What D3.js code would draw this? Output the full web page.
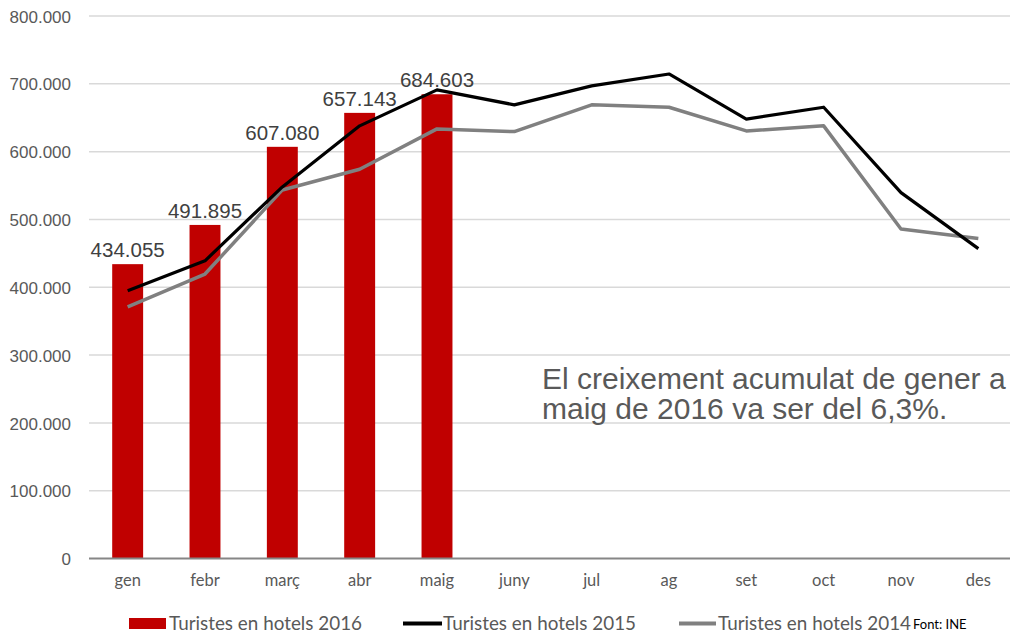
<!DOCTYPE html>
<html>
<head>
<meta charset="utf-8">
<script src="https://cdn.jsdelivr.net/npm/d3@7"></script>
<style>
  body { margin: 0; background: #fff; }
  svg { display: block; }
</style>
</head>
<body>
<svg id="chart" width="1010" height="637"></svg>
<script>
// months on the x axis
const months = ["gen", "febr", "març", "abr", "maig", "juny", "jul", "ag", "set", "oct", "nov", "des"];
// 2016 bars (only jan-may)
const hotels2016 = [434055, 491895, 607080, 657143, 684603];
// 2015 and 2014 lines
const hotels2015 = [395000, 439000, 548000, 638000, 691000, 669000, 697000, 714500, 648000, 665500, 539500, 457000];
const hotels2014 = [371000, 419500, 543500, 574000, 633500, 629500, 669000, 665500, 630500, 638000, 486000, 472000];
const yTicks = [0, 100000, 200000, 300000, 400000, 500000, 600000, 700000, 800000];
const legendLabels = ["Turistes en hotels 2016", "Turistes en hotels 2015", "Turistes en hotels 2014"];
const noteLines = ["El creixement acumulat de gener a", "maig de 2016 va ser del 6,3%."];

const svg = d3.select("#chart");

const x = d3.scaleBand()
    .domain(months)
    .range([89, 1017])
    .paddingInner(0.6)
    .paddingOuter(0.3);

const y = d3.scaleLinear()
    .domain([0, 800000])
    .range([558.5, 16]);

// numbers as 434.055
const fmt = v => d3.format(",")(v).replace(/,/g, ".");

// gridlines
svg.append("g")
    .selectAll("line")
    .data(yTicks.filter(d => d > 0))
    .enter()
    .append("line")
    .attr("x1", 89)
    .attr("x2", 1010)
    .attr("y1", d => y(d))
    .attr("y2", d => y(d))
    .style("stroke", "#d9d9d9")
    .style("stroke-width", 1.5);

// y axis labels
const yAxis = svg.append("g")
    .attr("transform", "translate(71,0)")
    .call(d3.axisLeft(y).tickValues(yTicks).tickSize(0).tickPadding(0).tickFormat(fmt));
yAxis.select(".domain").remove();
yAxis.selectAll("text")
    .attr("dy", "0.36em")
    .style("font-family", "'Liberation Sans', Arial, sans-serif")
    .style("font-size", "17px")
    .style("fill", "#595959");

// bars
svg.append("g")
    .selectAll("rect")
    .data(hotels2016)
    .enter()
    .append("rect")
    .attr("x", (d, i) => x(months[i]))
    .attr("width", x.bandwidth())
    .attr("y", d => y(d))
    .attr("height", d => y(0) - y(d))
    .style("fill", "#c00000");

// x axis line
svg.append("line")
    .attr("x1", 89)
    .attr("x2", 1010)
    .attr("y1", y(0))
    .attr("y2", y(0))
    .style("stroke", "#868686")
    .style("stroke-width", 2);

// x axis labels
const xAxis = svg.append("g")
    .attr("transform", `translate(0,${y(0)})`)
    .call(d3.axisBottom(x).tickSize(0).tickPadding(0));
xAxis.select(".domain").remove();
xAxis.selectAll("text")
    .attr("y", 27)
    .attr("dy", 0)
    .style("font-family", "Lato, 'Open Sans', sans-serif")
    .style("font-size", "16.5px")
    .style("fill", "#595959");

// lines
const line = d3.line()
    .x((d, i) => x(months[i]) + x.bandwidth() / 2)
    .y(d => y(d));

svg.append("path")
    .datum(hotels2014)
    .attr("d", line)
    .style("fill", "none")
    .style("stroke", "#808080")
    .style("stroke-width", 3.5)
    .style("stroke-linejoin", "round");

svg.append("path")
    .datum(hotels2015)
    .attr("d", line)
    .style("fill", "none")
    .style("stroke", "#000000")
    .style("stroke-width", 3.2)
    .style("stroke-linejoin", "round");

// bar value labels
svg.append("g")
    .selectAll("text")
    .data(hotels2016)
    .enter()
    .append("text")
    .attr("x", (d, i) => x(months[i]) + x.bandwidth() / 2)
    .attr("y", d => y(d) - 7)
    .attr("text-anchor", "middle")
    .style("font-family", "'Liberation Sans', Arial, sans-serif")
    .style("font-size", "20.5px")
    .style("fill", "#404040")
    .text(fmt);

// annotation
svg.append("text")
    .attr("x", 542)
    .attr("y", 389)
    .style("font-family", "'Liberation Sans', Arial, sans-serif")
    .style("font-size", "30px")
    .style("fill", "#595959")
    .selectAll("tspan")
    .data(noteLines)
    .enter()
    .append("tspan")
    .attr("x", 542)
    .attr("dy", (d, i) => i === 0 ? 0 : 30)
    .text(d => d);

// legend
const legend = svg.append("g")
    .style("font-family", "Lato, 'Open Sans', sans-serif")
    .style("font-size", "18.5px")
    .style("fill", "#595959");

legend.append("rect")
    .attr("x", 129)
    .attr("y", 618)
    .attr("width", 37)
    .attr("height", 11)
    .style("fill", "#c00000");

legend.append("line")
    .attr("x1", 403).attr("x2", 442)
    .attr("y1", 623.5).attr("y2", 623.5)
    .style("stroke", "#000")
    .style("stroke-width", 4);

legend.append("line")
    .attr("x1", 679).attr("x2", 716)
    .attr("y1", 623.5).attr("y2", 623.5)
    .style("stroke", "#808080")
    .style("stroke-width", 4);

const legendX = [169, 443, 718];
legend.selectAll("text.lbl")
    .data(legendLabels)
    .enter()
    .append("text")
    .attr("class", "lbl")
    .attr("x", (d, i) => legendX[i])
    .attr("y", 630)
    .attr("textLength", 193)
    .attr("lengthAdjust", "spacingAndGlyphs")
    .text(d => d);

svg.append("text")
    .attr("x", 913)
    .attr("y", 629)
    .style("font-family", "Lato, 'Open Sans', sans-serif")
    .style("font-size", "13px")
    .style("fill", "#000")
    .text("Font: INE");
</script>
</body>
</html>
